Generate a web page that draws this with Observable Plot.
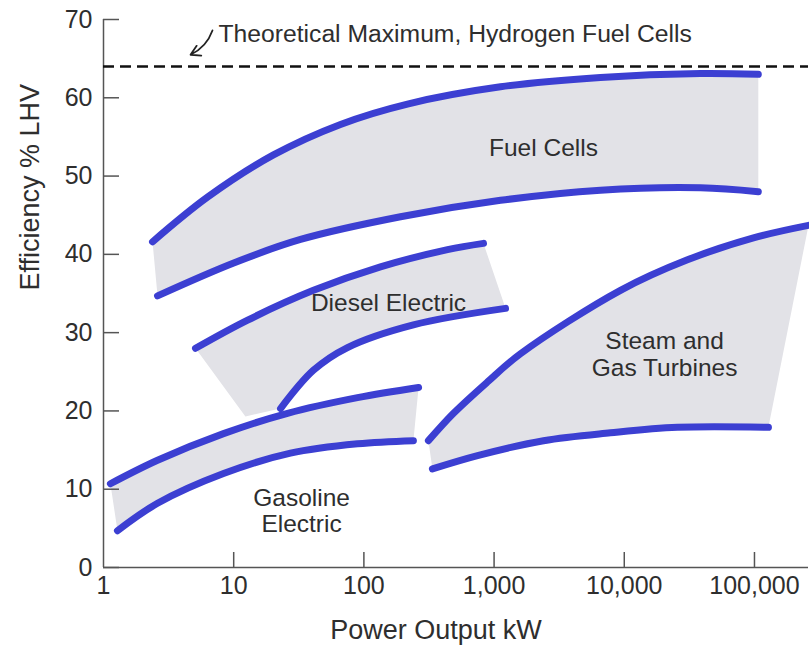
<!DOCTYPE html>
<html>
<head>
<meta charset="utf-8">
<script src="https://cdn.jsdelivr.net/npm/d3@7"></script>
<script src="https://cdn.jsdelivr.net/npm/@observablehq/plot@0.6"></script>
<style>
  html, body { margin: 0; padding: 0; background: #fff; }
  #chart svg { display: block; }
</style>
</head>
<body>
<div id="chart"></div>
<script>
// ---- data (x = kW, y = efficiency %) ----
const fuelUpper = [[2.38,41.6],[6.29,47.3],[20.2,52.7],[66.1,56.6],[216,59.2],[1120,61.4],[6560,62.6],[38500,63.1],[107000,63.0]];
const fuelLower = [[2.6,34.7],[10,38.9],[32.6,41.9],[191,44.8],[1120,46.9],[6560,48.2],[38500,48.5],[107000,48.0]];
const dieselUpper = [[5.09,28.0],[12.8,31.6],[41,35.4],[134,38.4],[439,40.6],[829,41.4]];
const dieselLower = [[22.9,20.3],[41,25.2],[74.8,28.1],[240,31.0],[1224,33.1]];
const dieselGrayCorner = [[12.3,19.3]];
const gasUpper = [[1.13,10.7],[2.6,13.7],[8.35,17.1],[25.9,19.7],[89.3,21.7],[263,23.0]];
const gasLower = [[1.28,4.7],[2.6,8.2],[8.35,12.0],[27.3,14.6],[89.3,15.8],[240,16.2]];
const steamUpper = [[313,16.2],[488,19.7],[890,23.7],[1595,27.3],[9350,35.4],[30560,39.3],[98200,42.1],[260000,43.7]];
const steamLower = [[336,12.6],[746,14.3],[2396,16.2],[7834,17.2],[25600,17.9],[128000,17.9]];
const theoreticalMax = 64;

const xTickLabels = [1, 10, 100, 1000, 10000, 100000];
const xTickMarks = [10, 100, 1000, 10000, 100000];
const yTicks = [0, 10, 20, 30, 40, 50, 60, 70];

const regionLabels = [
  {x: 2395, y: 53.7, text: "Fuel Cells"},
  {x: 154.5, y: 33.9, text: "Diesel Electric"},
  {x: 20400, y: 27.3, text: "Steam and\nGas Turbines"},
  {x: 33.2, y: 7.3, text: "Gasoline\nElectric"}
];
const annotation = [{x: 7.64, y: 68.1, text: "Theoretical Maximum, Hydrogen Fuel Cells"}];
const annotationArrow = [{x1: 6.87, y1: 68.6, x2: 4.66, y2: 65.5}];

// ---- build marks ----
const pts = a => a.map(([x, y]) => ({x, y}));
const band = (up, low, extra = []) => pts([...up, ...low.slice().reverse(), ...extra]);

const W = 809, H = 655;
const mL = 103, mR = 1, mT = 19, mB = 88;
const BLUE = "#3c3fd2", GRAY = "#e2e2e7", TXT = "#2e2e2e", AX = "#555";
const FONT = "'Liberation Sans', Arial, Helvetica, sans-serif";

const curves = [fuelUpper, fuelLower, dieselUpper, dieselLower, gasUpper, gasLower, steamUpper, steamLower];

const chart = Plot.plot({
  width: W, height: H,
  marginLeft: mL, marginRight: mR, marginTop: mT, marginBottom: mB,
  style: {fontFamily: FONT, background: "#fff", overflow: "visible"},
  x: {type: "log", domain: [1, 260000], axis: null},
  y: {domain: [0, 70], axis: null},
  marks: [
    // gray bands
    Plot.line(band(fuelUpper, fuelLower), {x: "x", y: "y", fill: GRAY, stroke: "none"}),
    Plot.line(band(dieselUpper, dieselLower, dieselGrayCorner), {x: "x", y: "y", fill: GRAY, stroke: "none"}),
    Plot.line(band(gasUpper, gasLower), {x: "x", y: "y", fill: GRAY, stroke: "none"}),
    Plot.line(band(steamUpper, steamLower), {x: "x", y: "y", fill: GRAY, stroke: "none"}),
    // axes
    Plot.ruleX([1], {stroke: AX, strokeWidth: 1.5}),
    Plot.ruleY([0], {stroke: AX, strokeWidth: 1.5}),
    Plot.tickY(yTicks, {y: d => d, stroke: AX, strokeWidth: 1.5, insetRight: W - mL - mR - 16}),
    Plot.tickX(xTickMarks, {x: d => d, stroke: AX, strokeWidth: 1.5, insetTop: H - mT - mB - 15}),
    Plot.text(yTicks, {y: d => d, frameAnchor: "left", dx: -11, textAnchor: "end", text: d => String(d), fontSize: 25, fill: TXT}),
    Plot.text(xTickLabels, {x: d => d, frameAnchor: "bottom", dy: 26, text: d => d3.format(",")(d), fontSize: 25, fill: TXT}),
    Plot.text(["Power Output kW"], {frameAnchor: "bottom", dx: -20, dy: 71, text: d => d, fontSize: 27, fill: TXT}),
    Plot.text(["Efficiency % LHV"], {frameAnchor: "left", dx: -73, dy: -3, rotate: -90, text: d => d, fontSize: 27, fill: TXT}),
    // theoretical max
    Plot.ruleY([theoreticalMax], {stroke: "#111", strokeWidth: 2.5, strokeDasharray: "11,6"}),
    Plot.text(annotation, {x: "x", y: "y", text: "text", textAnchor: "start", fontSize: 24.7, fill: TXT}),
    Plot.arrow(annotationArrow, {x1: "x1", y1: "y1", x2: "x2", y2: "y2", bend: true, stroke: "#222", strokeWidth: 1.8, headLength: 9}),
    // blue curves
    ...curves.map(c => Plot.line(pts(c), {x: "x", y: "y", stroke: BLUE, strokeWidth: 7, curve: "catmull-rom", strokeLinecap: "round"})),
    // region labels
    Plot.text(regionLabels, {x: "x", y: "y", text: "text", fontSize: 24.5, lineHeight: 1.1, fill: TXT})
  ]
});
document.getElementById("chart").appendChild(chart);
</script>
</body>
</html>
